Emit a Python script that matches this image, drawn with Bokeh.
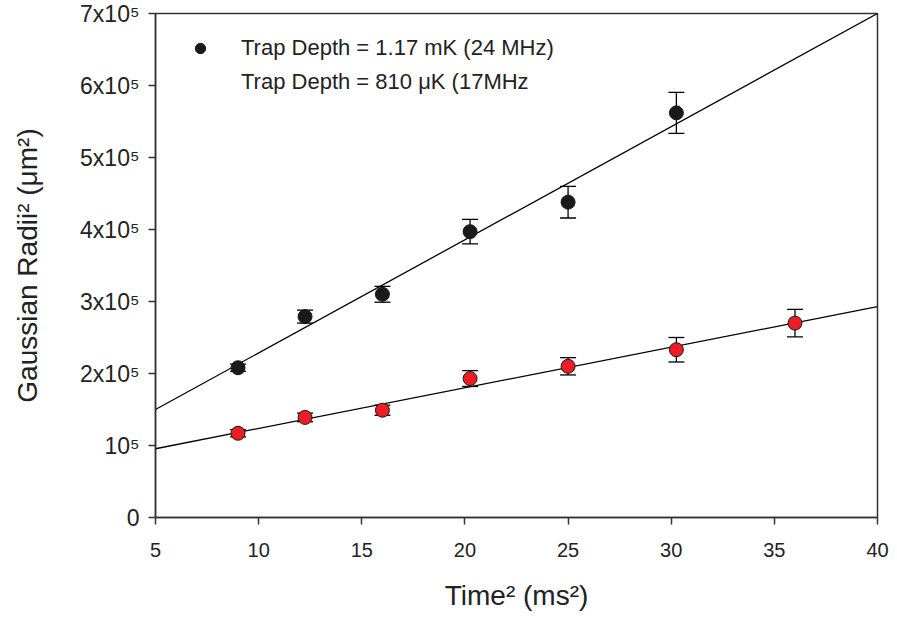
from bokeh.plotting import figure
from bokeh.models import ColumnDataSource, Whisker, TeeHead, Legend, LegendItem, FixedTicker, Range1d
from bokeh.embed import file_html
from bokeh.resources import INLINE

# data (values in units of 1e5 um^2)
time2_black = [9, 12.25, 16, 20.25, 25, 30.25]
radii2_black = [2.08, 2.79, 3.10, 3.97, 4.38, 5.62]
err_black = [0.05, 0.09, 0.11, 0.17, 0.22, 0.285]

time2_red = [9, 12.25, 16, 20.25, 25, 30.25, 36]
radii2_red = [1.17, 1.39, 1.49, 1.93, 2.10, 2.33, 2.70]
err_red = [0.05, 0.06, 0.07, 0.11, 0.12, 0.17, 0.19]

fit_x = [5, 40]
fit_black = [1.50, 7.00]
fit_red = [0.955, 2.93]

x_ticks = [5, 10, 15, 20, 25, 30, 35, 40]
y_ticks = [0, 1, 2, 3, 4, 5, 6, 7]
y_tick_labels = ["0", "10\u2075", "2x10\u2075", "3x10\u2075", "4x10\u2075", "5x10\u2075", "6x10\u2075", "7x10\u2075"]

label_black = "Trap Depth = 1.17 mK (24 MHz)"
label_red = "Trap Depth = 810 \u03bcK (17MHz"

FONT = "Liberation Sans"
AX = "#333333"
TXT = "#222222"

p = figure(frame_width=722, frame_height=504, output_backend="svg", toolbar_location=None,
           x_range=Range1d(5, 40), y_range=Range1d(0, 7),
           min_border_left=155, min_border_right=20, min_border_top=13, min_border_bottom=104)
p.grid.visible = False
p.outline_line_color = AX
p.outline_line_width = 1.5
p.background_fill_color = "white"
p.border_fill_color = "white"

for ax in (p.xaxis[0], p.yaxis[0]):
    ax.axis_line_color = AX
    ax.axis_line_width = 1.5
    ax.major_tick_line_color = AX
    ax.major_tick_line_width = 1.5
    ax.major_tick_in = 0
    ax.major_tick_out = 7
    ax.minor_tick_in = 0
    ax.minor_tick_out = 0
    ax.major_label_text_font = FONT
    ax.major_label_text_color = TXT
    ax.axis_label_text_font = FONT
    ax.axis_label_text_font_size = "28px"
    ax.axis_label_text_font_style = "normal"
    ax.axis_label_text_color = TXT

p.xaxis.major_label_text_font_size = "20px"
p.yaxis.major_label_text_font_size = "23px"
p.xaxis.ticker = FixedTicker(ticks=x_ticks)
p.yaxis.ticker = FixedTicker(ticks=y_ticks)
p.yaxis.major_label_overrides = {t: l for t, l in zip(y_ticks, y_tick_labels)}
p.xaxis.major_label_standoff = 18
p.yaxis.major_label_standoff = 9
p.xaxis.axis_label = "Time\u00b2 (ms\u00b2)"
p.yaxis.axis_label = "Gaussian Radii\u00b2 (\u03bcm\u00b2)"
p.xaxis.axis_label_standoff = 20
p.yaxis.axis_label_standoff = 34

# fit lines
p.line(fit_x, fit_black, line_color="black", line_width=1.3)
p.line(fit_x, fit_red, line_color="black", line_width=1.3)

# error bars
def errsrc(x, y, e):
    return ColumnDataSource(dict(x=x, y=y, lo=[a - b for a, b in zip(y, e)], hi=[a + b for a, b in zip(y, e)]))

sb = errsrc(time2_black, radii2_black, err_black)
sr = errsrc(time2_red, radii2_red, err_red)
for s in (sb, sr):
    w = Whisker(source=s, base="x", lower="lo", upper="hi", line_color="black", line_width=1.3,
                upper_head=TeeHead(size=16, line_color="black", line_width=1.3),
                lower_head=TeeHead(size=16, line_color="black", line_width=1.3))
    p.add_layout(w)

rb = p.scatter("x", "y", source=sb, size=14, fill_color="#1a1a1a", line_color="#1a1a1a")
rr = p.scatter("x", "y", source=sr, size=14, fill_color="#ee1c25", line_color="#1a1a1a", line_width=1)

# legend (second entry shows no marker, as in the original)
blank = p.line([fit_x[0]], [fit_black[0]], line_alpha=0)

legend = Legend(items=[LegendItem(label=label_black, renderers=[rb]),
                       LegendItem(label=label_red, renderers=[blank])],
                location=(32, 422), border_line_alpha=0, background_fill_alpha=0,
                label_text_font=FONT, label_text_font_size="22px", label_text_color=TXT,
                glyph_width=26, glyph_height=26, label_height=26, spacing=8, padding=0,
                label_standoff=28, margin=0)
p.add_layout(legend)

open("out.html", "w").write(file_html(p, INLINE))
